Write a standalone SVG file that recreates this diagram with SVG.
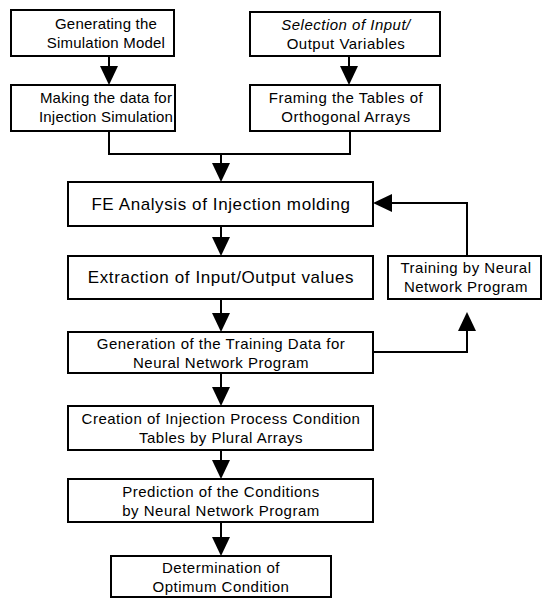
<svg xmlns="http://www.w3.org/2000/svg" width="542" height="599" viewBox="0 0 542 599">
<style>
.nd{fill:#fff;stroke:#000;stroke-width:2}
text{font-family:"Liberation Sans",Arial,sans-serif;font-size:15px;letter-spacing:0.5px;text-anchor:middle;fill:#000}
text.big{font-size:17px;letter-spacing:0.6px}
text.tight{letter-spacing:0.2px}
.ln{fill:none;stroke:#000;stroke-width:2}
.ah{fill:#000;stroke:none}
</style>
<rect width="542" height="599" fill="#fff"/>
<g id="connectors">
  <path class="ln" d="M109 56V67"/><polygon class="ah" points="100,66 118,66 109,85"/>
  <path class="ln" d="M349 56V67"/><polygon class="ah" points="340,66 358,66 349,85"/>
  <path class="ln" d="M109 131V154H350V131"/>
  <path class="ln" d="M221 154V164"/><polygon class="ah" points="212,163 230,163 221,182"/>
  <path class="ln" d="M221 226V238"/><polygon class="ah" points="212,237 230,237 221,256"/>
  <path class="ln" d="M221 299V314"/><polygon class="ah" points="212,313 230,313 221,332"/>
  <path class="ln" d="M221 373V388"/><polygon class="ah" points="212,387 230,387 221,406"/>
  <path class="ln" d="M221 450V461"/><polygon class="ah" points="212,460 230,460 221,479"/>
  <path class="ln" d="M221 522V538"/><polygon class="ah" points="212,537 230,537 221,556"/>
  <path class="ln" d="M467 256V203H391"/><polygon class="ah" points="392,194 392,212 373,203"/>
  <path class="ln" d="M373 352H467V330"/><polygon class="ah" points="458,331 476,331 467,312"/>
</g>
<g id="n1"><rect class="nd" x="11" y="10" width="163" height="46"/><text class="tight" x="106" y="29">Generating the</text><text class="tight" x="106" y="48">Simulation Model</text></g>
<g id="n2"><rect class="nd" x="250" y="12" width="190" height="44"/><text x="346" y="30" font-style="italic">Selection of Input/</text><text x="346" y="49">Output Variables</text></g>
<g id="n3"><rect class="nd" x="11" y="85" width="164" height="46"/><text class="tight" x="106" y="103">Making the data for</text><text class="tight" x="106" y="122">Injection Simulation</text></g>
<g id="n4"><rect class="nd" x="250" y="85" width="190" height="46"/><text x="346" y="103">Framing the Tables of</text><text x="346" y="122">Orthogonal Arrays</text></g>
<g id="n5"><rect class="nd" x="68" y="182" width="305" height="44"/><text class="big" x="221" y="210">FE Analysis of Injection molding</text></g>
<g id="n6"><rect class="nd" x="68" y="256" width="305" height="43"/><text class="big" x="221" y="283">Extraction of Input/Output values</text></g>
<g id="n7"><rect class="nd" x="388" y="256" width="153" height="43"/><text x="466" y="273">Training by Neural</text><text x="466" y="292">Network Program</text></g>
<g id="n8"><rect class="nd" x="68" y="332" width="305" height="41"/><text x="221" y="349">Generation of the Training Data for</text><text x="221" y="368">Neural Network Program</text></g>
<g id="n9"><rect class="nd" x="68" y="406" width="305" height="44"/><text x="221" y="424">Creation of Injection Process Condition</text><text x="221" y="443">Tables by Plural Arrays</text></g>
<g id="n10"><rect class="nd" x="68" y="479" width="305" height="43"/><text x="221" y="497">Prediction of the Conditions</text><text x="221" y="516">by Neural Network Program</text></g>
<g id="n11"><rect class="nd" x="111" y="556" width="220" height="41"/><text x="221" y="573">Determination of</text><text x="221" y="592">Optimum Condition</text></g>
</svg>
